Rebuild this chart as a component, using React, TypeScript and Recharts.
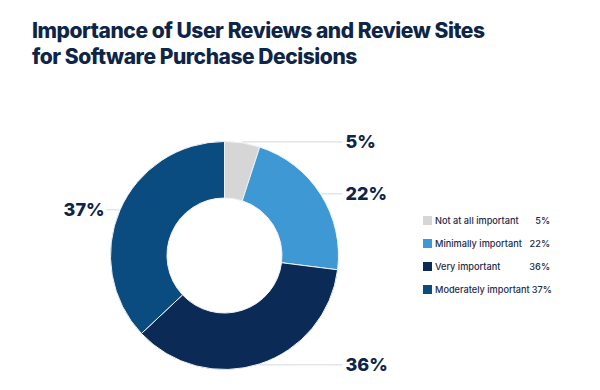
import { PieChart, Pie, Cell } from "recharts";

const categories = ["Not at all important", "Minimally important", "Very important", "Moderately important"];
const shares = [5, 22, 36, 37];
const colors = ["#d6d6d6", "#3d98d3", "#0b2a55", "#0a4b80"];

const title = ["Importance of User Reviews and Review Sites", "for Software Purchase Decisions"];

const data = categories.map((name, i) => ({ name, value: shares[i], color: colors[i] }));

const INK = "#0e2547";
const FONT = "Inter, 'Noto Sans', sans-serif";
const RAD = Math.PI / 180;

// etiqueta con línea horizontal hacia una columna fija a cada lado del anillo
function SliceLabel(props: any) {
  const { cx, cy, midAngle, outerRadius, value } = props;
  const px = cx + (outerRadius + 1) * Math.cos(-midAngle * RAD);
  const py = cy + (outerRadius + 1) * Math.sin(-midAngle * RAD);
  const right = px >= cx;
  const colX = right ? cx + outerRadius + 4 : cx - outerRadius + 4;
  const tx = right ? colX + 3 : colX - 10;
  return (
    <g>
      <line x1={px} y1={py} x2={right ? colX : tx + 2} y2={py} stroke="#d4d8de" strokeWidth={1} />
      <text
        x={tx}
        y={py}
        dy="0.35em"
        textAnchor={right ? "start" : "end"}
        fill={INK}
        fontFamily={FONT}
        fontWeight={800}
        fontSize={18}
      >
        {value}%
      </text>
    </g>
  );
}

function LegendBox() {
  return (
    <div style={{ fontFamily: FONT, fontSize: 9.2, fontWeight: 500, color: "#1d2b47", width: 127, whiteSpace: "nowrap" }}>
      {data.map((d) => (
        <div key={d.name} style={{ display: "flex", alignItems: "center", height: 23 }}>
          <i style={{ width: 9, height: 9, background: d.color, display: "inline-block", marginRight: 3, flexShrink: 0 }} />
          <span style={{ flex: 1 }}>{d.name}</span>
          <span style={{ marginLeft: 2 }}>{d.value}%</span>
        </div>
      ))}
    </div>
  );
}

export default function App() {
  return (
    <div style={{ position: "absolute", left: 0, top: 0, width: 600, height: 390, background: "#fff" }}>
      <div
        style={{
          position: "absolute",
          left: 32,
          top: 18,
          fontFamily: FONT,
          fontWeight: 800,
          fontSize: 21,
          lineHeight: "26px",
          letterSpacing: -0.45,
          color: INK,
        }}
      >
        {title.map((t) => (
          <div key={t}>{t}</div>
        ))}
      </div>
      <PieChart width={600} height={390} margin={{ top: 0, right: 0, bottom: 0, left: 0 }}>
        <Pie
          data={data}
          dataKey="value"
          nameKey="name"
          cx={224.5}
          cy={255.5}
          innerRadius={57.5}
          outerRadius={114}
          startAngle={90}
          endAngle={-270}
          stroke="#eef2f6"
          strokeWidth={1}
          label={SliceLabel}
          labelLine={false}
          isAnimationActive={false}
        >
          {data.map((d) => (
            <Cell key={d.name} fill={d.color} />
          ))}
        </Pie>
      </PieChart>
      <div style={{ position: "absolute", left: 423, top: 209 }}>
        <LegendBox />
      </div>
    </div>
  );
}
